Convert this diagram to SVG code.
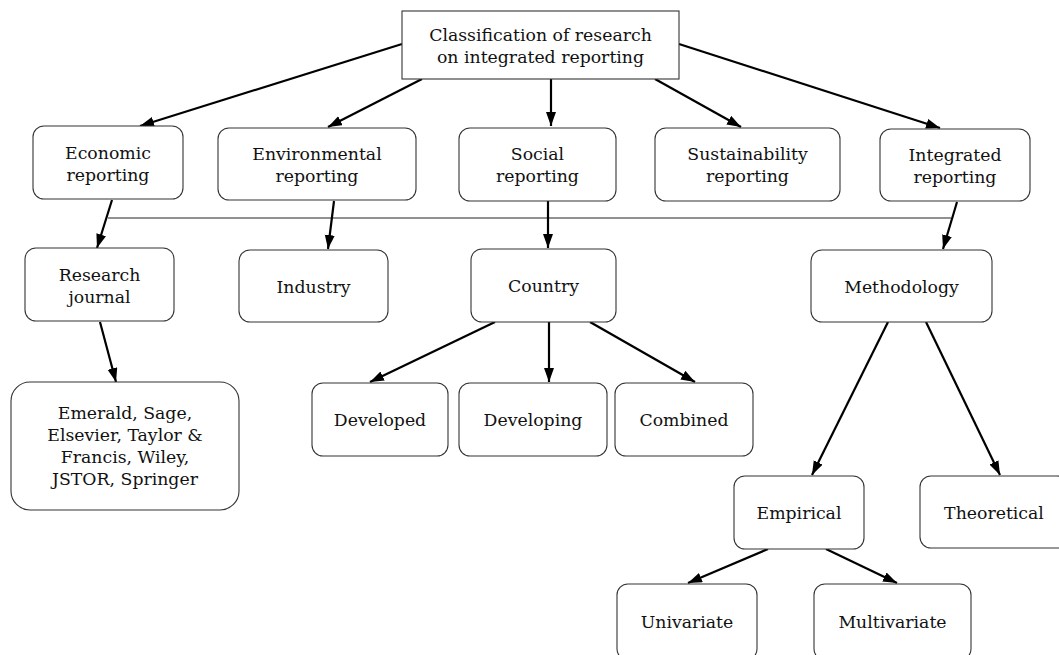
<svg xmlns="http://www.w3.org/2000/svg" width="1059" height="655" viewBox="0 0 1059 655">
<defs>
<marker id="ah" markerUnits="userSpaceOnUse" markerWidth="15" markerHeight="11" refX="14" refY="5" orient="auto">
<path d="M0,0 L14,5 L0,10 z" fill="#000"/>
</marker>
<style>
.box{fill:#fff;stroke:#333;stroke-width:1.1}
.t{font-family:"DejaVu Serif","Liberation Serif",serif;font-size:17.3px;fill:#111;text-anchor:middle}
.c{stroke:#000;stroke-width:2.2;fill:none;marker-end:url(#ah)}
.bar{stroke:#222;stroke-width:1;fill:none}
</style>
</defs>
<rect width="1059" height="655" fill="#fff"/>
<g id="connectors">
<line class="bar" x1="108" y1="218" x2="951" y2="218"/>
<line class="c" x1="402" y1="44" x2="140" y2="126"/>
<line class="c" x1="422" y1="79" x2="328" y2="127"/>
<line class="c" x1="551" y1="79" x2="551" y2="126"/>
<line class="c" x1="655" y1="79" x2="741" y2="127"/>
<line class="c" x1="679" y1="44" x2="940" y2="128"/>
<line class="c" x1="112" y1="200" x2="97" y2="248"/>
<line class="c" x1="334" y1="201" x2="328" y2="249"/>
<line class="c" x1="548" y1="201" x2="548" y2="248"/>
<line class="c" x1="957" y1="202" x2="943" y2="249"/>
<line class="c" x1="100" y1="322" x2="116" y2="382"/>
<line class="c" x1="495" y1="322" x2="370" y2="382"/>
<line class="c" x1="549" y1="322" x2="549" y2="382"/>
<line class="c" x1="590" y1="322" x2="695" y2="382"/>
<line class="c" x1="888" y1="322" x2="812" y2="475"/>
<line class="c" x1="926" y1="322" x2="1000" y2="475"/>
<line class="c" x1="768" y1="549" x2="688" y2="583"/>
<line class="c" x1="826" y1="549" x2="897" y2="583"/>
</g>
<g id="root"><rect class="box" x="402" y="11" width="277" height="68"/><text class="t" x="540.5" y="41">Classification of research</text><text class="t" x="540.5" y="63">on integrated reporting</text></g>
<g id="economic"><rect class="box" x="33" y="126" width="150" height="73" rx="11"/><text class="t" x="108" y="159">Economic</text><text class="t" x="108" y="181">reporting</text></g>
<g id="environmental"><rect class="box" x="218" y="128" width="198" height="72" rx="11"/><text class="t" x="317" y="160">Environmental</text><text class="t" x="317" y="182">reporting</text></g>
<g id="social"><rect class="box" x="459" y="128" width="157" height="73" rx="11"/><text class="t" x="537.5" y="160">Social</text><text class="t" x="537.5" y="182">reporting</text></g>
<g id="sustainability"><rect class="box" x="655" y="128" width="185" height="73" rx="11"/><text class="t" x="747.5" y="160">Sustainability</text><text class="t" x="747.5" y="182">reporting</text></g>
<g id="integrated"><rect class="box" x="880" y="129" width="150" height="72" rx="11"/><text class="t" x="955" y="161">Integrated</text><text class="t" x="955" y="183">reporting</text></g>
<g id="journal"><rect class="box" x="25" y="248" width="149" height="73" rx="11"/><text class="t" x="99.5" y="281">Research</text><text class="t" x="99.5" y="303">journal</text></g>
<g id="industry"><rect class="box" x="239" y="250" width="149" height="72" rx="11"/><text class="t" x="313.5" y="293">Industry</text></g>
<g id="country"><rect class="box" x="471" y="249" width="145" height="73" rx="11"/><text class="t" x="543.5" y="292">Country</text></g>
<g id="methodology"><rect class="box" x="811" y="250" width="181" height="72" rx="11"/><text class="t" x="901.5" y="293">Methodology</text></g>
<g id="publishers"><rect class="box" x="11" y="382" width="228" height="128" rx="19"/><text class="t" x="125" y="419">Emerald, Sage,</text><text class="t" x="125" y="441">Elsevier, Taylor &amp;</text><text class="t" x="125" y="463">Francis, Wiley,</text><text class="t" x="125" y="485">JSTOR, Springer</text></g>
<g id="developed"><rect class="box" x="312" y="383" width="136" height="73" rx="11"/><text class="t" x="380" y="426">Developed</text></g>
<g id="developing"><rect class="box" x="459" y="383" width="148" height="73" rx="11"/><text class="t" x="533" y="426">Developing</text></g>
<g id="combined"><rect class="box" x="615" y="383" width="138" height="73" rx="11"/><text class="t" x="684" y="426">Combined</text></g>
<g id="empirical"><rect class="box" x="734" y="476" width="130" height="73" rx="11"/><text class="t" x="799" y="519">Empirical</text></g>
<g id="theoretical"><rect class="box" x="920" y="476" width="148" height="72" rx="11"/><text class="t" x="994" y="519">Theoretical</text></g>
<g id="univariate"><rect class="box" x="617" y="584" width="140" height="76" rx="11"/><text class="t" x="687" y="628">Univariate</text></g>
<g id="multivariate"><rect class="box" x="814" y="584" width="157" height="76" rx="11"/><text class="t" x="892.5" y="628">Multivariate</text></g>
</svg>
